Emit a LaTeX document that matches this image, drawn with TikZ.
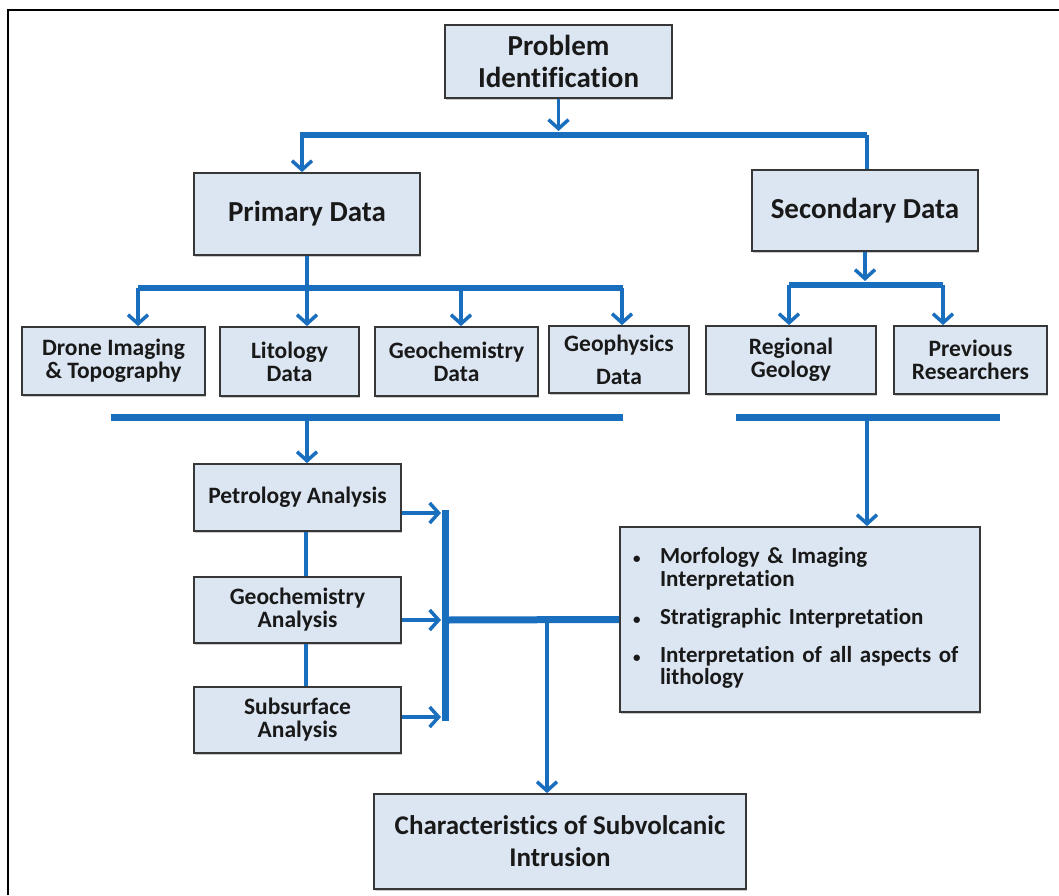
\documentclass[tikz,border=0pt]{standalone}
\usepackage{fontspec}
\setmainfont{Carlito}[Ligatures=NoCommon]
\usetikzlibrary{arrows.meta,shadows}
\definecolor{flowblue}{RGB}{25,110,190}
\definecolor{boxfill}{RGB}{220,230,242}
\definecolor{boxline}{RGB}{55,55,55}
\definecolor{txt}{RGB}{25,25,25}
\newcommand{\smallbul}{{\fontsize{15}{15}\selectfont\textbullet}}
\begin{document}
\begin{tikzpicture}[x=1pt,y=-1pt,
  box/.style={draw=boxline, line width=1.8pt, fill=boxfill, inner sep=0pt, align=center, text=txt,
    font=\bfseries\fontsize{23.5}{23}\selectfont,
    drop shadow={shadow xshift=1pt, shadow yshift=-1.5pt, opacity=0.35, fill=black!60}},
  bigbox/.style={box, font=\bfseries\fontsize{29}{32}\selectfont},
  conn/.style={draw=flowblue, line width=3.5pt},
  arr/.style={conn, -{Straight Barb[length=9pt,width=20pt]}},
  bar/.style={draw=flowblue, line width=7pt},
]
\useasboundingbox (0,0) rectangle (1059,895);
% frame
\draw[line width=2.5pt] (8,895) -- (8,10) -- (1059,10);

% nodes
\node[bigbox, minimum width=227pt, minimum height=73pt] (prob) at (558.5,61.5) {Problem\\Identification};
\node[bigbox, minimum width=226pt, minimum height=82pt] (prim) at (307,214) {Primary Data};
\node[bigbox, minimum width=226pt, minimum height=81pt] (sec) at (865,210.5) {Secondary Data};

\node[box, minimum width=183pt, minimum height=68pt] (drone) at (113.5,361) {Drone Imaging\\\& Topography};
\node[box, minimum width=139pt, minimum height=69pt] (lito) at (289.5,361.5) {Litology\\Data};
\node[box, minimum width=163pt, minimum height=69pt] (geoc) at (456.5,361.5) {Geochemistry\\Data};
\node[box, minimum width=140pt, minimum height=67pt] (geop) at (619,359.5) {Geophysics\\[10pt]Data};
\node[box, minimum width=170pt, minimum height=68pt] (reg) at (791,360) {Regional\\Geology};
\node[box, minimum width=153pt, minimum height=68pt] (prev) at (970.5,360) {Previous\\Researchers};

\node[box, minimum width=207pt, minimum height=67pt] (petro) at (297.5,497.5) {Petrology Analysis};
\node[box, minimum width=207pt, minimum height=66pt] (geoa) at (297.5,610) {Geochemistry\\Analysis};
\node[box, minimum width=207pt, minimum height=66pt] (subs) at (297.5,720) {Subsurface\\Analysis};

\node[box, minimum width=360pt, minimum height=185pt, text width=334pt, align=left,
      font=\bfseries\fontsize{23}{22}\selectfont] (morf) at (800,619.5)
  {\begin{tabular}{@{}p{27pt}@{}l@{}}
   \smallbul & Morfology \& Imaging\\
               & Interpretation\\[15pt]
   \smallbul & Stratigraphic Interpretation\\[15pt]
   \smallbul & Interpretation of all aspects of\\
               & lithology
   \end{tabular}};

\node[box, minimum width=372pt, minimum height=95pt, font=\bfseries\fontsize{27}{32}\selectfont] (charc) at (560,841.5)
  {Characteristics of Subvolcanic\\Intrusion};

% junction coordinates
\coordinate (b1top) at (0,131);
\coordinate (b1L) at (300,135);
\coordinate (b1La) at (302,135);
\coordinate (b1R) at (867,135);
\coordinate (b2top) at (0,281);
\coordinate (b2L) at (789,285);
\coordinate (b2R) at (943,285);
\coordinate (b3) at (0,288);
\coordinate (b3L) at (138,288);
\coordinate (b3a) at (307,288);
\coordinate (b3b) at (461,288);
\coordinate (b3R) at (622,288);
\coordinate (b3end) at (623,288);
\coordinate (b4L) at (111,417);
\coordinate (b4a) at (307,417);
\coordinate (b4R) at (623,417);
\coordinate (b5L) at (736,417);
\coordinate (b5a) at (867,417);
\coordinate (b5R) at (1000,417);
\coordinate (xs) at (306,0);
\coordinate (a1) at (441,513);
\coordinate (a2) at (441,620);
\coordinate (a3) at (441,717);
\coordinate (vbT) at (445,510);
\coordinate (vbB) at (445,721);
\coordinate (hb) at (445,620);
\coordinate (d1) at (547,620);

% level 1
\draw[arr] (prob.south) -- (prob.south |- b1top);
\draw[bar, line width=6pt] (b1L) -- (b1R);
\draw[arr] (b1La) -- (b1La |- prim.north);
\draw[conn] (b1R) -- (b1R |- sec.north);

% secondary branch
\draw[arr] (sec.south) -- (sec.south |- b2top);
\draw[bar, line width=6pt] (b2L) -- (b2R);
\draw[arr] (b2L) -- (b2L |- reg.north);
\draw[arr] (b2R) -- (b2R |- prev.north);

% primary branch
\draw[conn] (prim.south) -- (prim.south |- b3);
\draw[bar, line width=6pt] (b3L) -- (b3end);
\draw[arr] (b3L) -- (b3L |- drone.north);
\draw[arr] (b3a) -- (b3a |- lito.north);
\draw[arr] (b3b) -- (b3b |- geoc.north);
\draw[arr] (b3R) -- (b3R |- geop.north);

% collecting bars
\draw[bar] (b4L) -- (b4R);
\draw[bar] (b5L) -- (b5R);
\draw[arr] (b4a) -- (b4a |- petro.north);
\draw[arr] (b5a) -- (b5a |- morf.north);

% analysis chain
\draw[conn] (petro.south -| xs) -- (geoa.north -| xs);
\draw[conn] (geoa.south -| xs) -- (subs.north -| xs);
\draw[arr] (petro.east |- a1) -- (a1);
\draw[arr] (geoa.east |- a2) -- (a2);
\draw[arr] (subs.east |- a3) -- (a3);
\draw[bar] (vbT) -- (vbB);
\draw[bar] (hb) -- (morf.west);
\draw[arr] (d1) -- (d1 |- charc.north);
\end{tikzpicture}
\end{document}
